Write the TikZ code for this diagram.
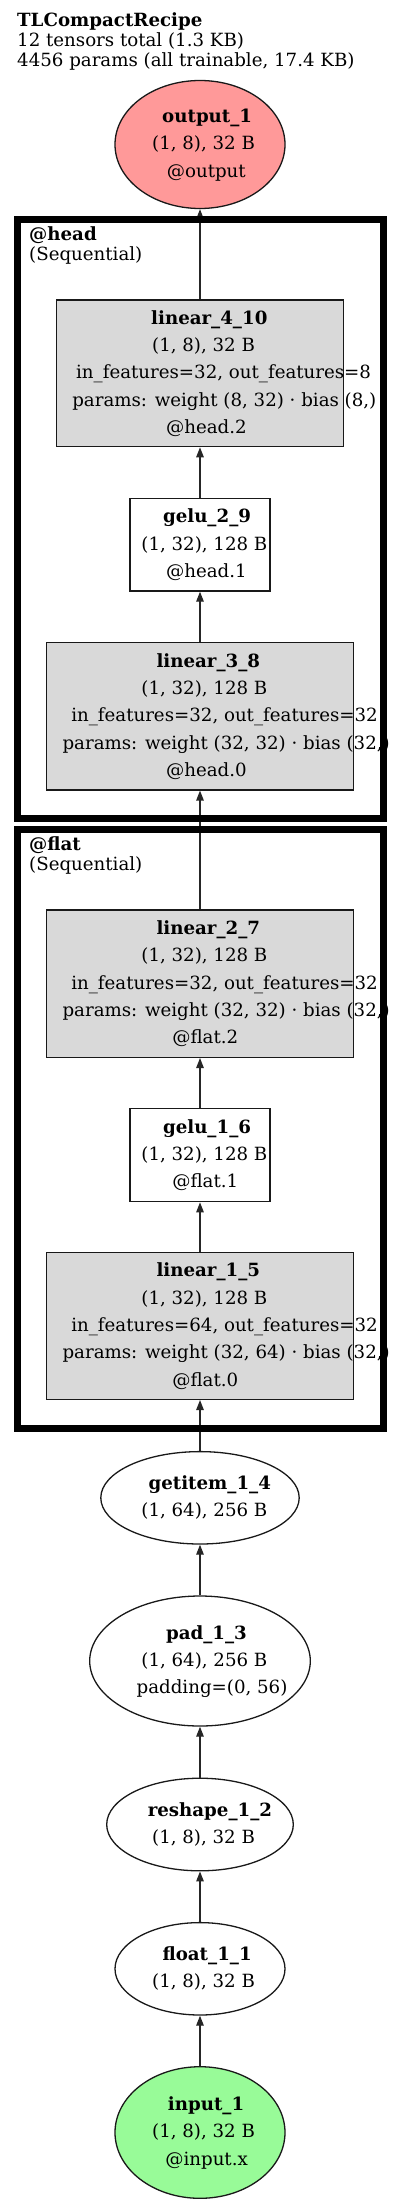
\documentclass[tikz,border=0pt]{standalone}
\usepackage{fontspec}
\setmainfont{DejaVu Serif}
\usepackage{xcolor}
\usepackage{tikz}
\usetikzlibrary{shapes,arrows.meta,positioning}

\definecolor{outred}{HTML}{FF9999}
\definecolor{ingreen}{HTML}{98FB98}
\definecolor{opgray}{HTML}{D9D9D9}

\newcommand{\graphfont}{\fontsize{18.2}{27.3}\selectfont}
\newcommand{\titlefont}{\fontsize{18.2}{20}\selectfont}
% one text line, set a little right of the node centre
\newcommand{\rowtxt}[2]{\setbox0=\hbox{#2}\makebox[0pt]{\strut\hspace*{#1\wd0}\box0}}
\newcommand{\rowname}[1]{\rowtxt{0.16}{\bfseries #1}}
\newcommand{\rowshape}[1]{\rowtxt{0.07}{#1}}
\newcommand{\rowtext}[1]{\rowtxt{0.16}{#1}}

\begin{document}
\begin{tikzpicture}[x=1pt, y=-1pt,
            box/.style={rectangle, draw=black!90, line width=1.3pt, fill=#1, inner sep=0pt, align=center, font=\graphfont},
            box/.default=white,
            oval/.style={ellipse, draw=black!90, line width=1.3pt, fill=#1, inner sep=0pt, align=center, font=\graphfont},
            oval/.default=white,
            flow/.style={line width=1.3pt, draw=black!85, -{Triangle[length=10pt,width=7.5pt]}},
            cluster/.style={rectangle, draw=black, line width=7pt, inner sep=0pt},
            heading/.style={inner sep=0pt, anchor=north west, align=left, font=\titlefont}]

            \useasboundingbox (0,0) rectangle (400,2205);

            % Title
            \node[heading] (title) at (17,12) {\textbf{TLCompactRecipe}\strut\\12 tensors total (1.3 KB)\strut\\4456 params (all trainable, 17.4 KB)\strut};

            % Output
            \node[oval=outred, minimum width=170, minimum height=128] (output_1) at (200,144.5)
                {\rowname{output\_1}\\\rowshape{(1, 8), 32 B}\\\rowtext{@output}};

            % @head layers
            \node[box=opgray, minimum width=287, minimum height=146.7] (linear_4_10) at (200,373.3)
                {\rowname{linear\_4\_10}\\\rowshape{(1, 8), 32 B}\\\rowtext{in\_features=32, out\_features=8}\\\rowtext{params: weight (8, 32) · bias (8,)}\\\rowtext{@head.2}};
            \node[box, minimum width=140, minimum height=92.7] (gelu_2_9) at (200,544.7)
                {\rowname{gelu\_2\_9}\\\rowshape{(1, 32), 128 B}\\\rowtext{@head.1}};
            \node[box=opgray, minimum width=307.3, minimum height=147.3] (linear_3_8) at (200,716.3)
                {\rowname{linear\_3\_8}\\\rowshape{(1, 32), 128 B}\\\rowtext{in\_features=32, out\_features=32}\\\rowtext{params: weight (32, 32) · bias (32,)}\\\rowtext{@head.0}};

            % @flat layers
            \node[box=opgray, minimum width=307.3, minimum height=147.3] (linear_2_7) at (200,983.7)
                {\rowname{linear\_2\_7}\\\rowshape{(1, 32), 128 B}\\\rowtext{in\_features=32, out\_features=32}\\\rowtext{params: weight (32, 32) · bias (32,)}\\\rowtext{@flat.2}};
            \node[box, minimum width=140, minimum height=93.4] (gelu_1_6) at (200,1155)
                {\rowname{gelu\_1\_6}\\\rowshape{(1, 32), 128 B}\\\rowtext{@flat.1}};
            \node[box=opgray, minimum width=307.3, minimum height=146.7] (linear_1_5) at (200,1326)
                {\rowname{linear\_1\_5}\\\rowshape{(1, 32), 128 B}\\\rowtext{in\_features=64, out\_features=32}\\\rowtext{params: weight (32, 64) · bias (32,)}\\\rowtext{@flat.0}};

            % Tensor ops
            \node[oval, minimum width=198.4, minimum height=92.4] (getitem_1_4) at (200,1497.8)
                {\rowname{getitem\_1\_4}\\\rowshape{(1, 64), 256 B}};
            \node[oval, minimum width=220.6, minimum height=130] (pad_1_3) at (200,1661)
                {\rowname{pad\_1\_3}\\\rowshape{(1, 64), 256 B}\\\rowtext{padding=(0, 56)}};
            \node[oval, minimum width=186.6, minimum height=92.6] (reshape_1_2) at (200,1824.5)
                {\rowname{reshape\_1\_2}\\\rowshape{(1, 8), 32 B}};
            \node[oval, minimum width=170, minimum height=92.4] (float_1_1) at (200,1968.8)
                {\rowname{float\_1\_1}\\\rowshape{(1, 8), 32 B}};

            % Input
            \node[oval=ingreen, minimum width=170, minimum height=131.6] (input_1) at (200,2132.5)
                {\rowname{input\_1}\\\rowshape{(1, 8), 32 B}\\\rowtext{@input.x}};

            % Connections
            \draw[flow] (input_1) -- (float_1_1);
            \draw[flow] (float_1_1) -- (reshape_1_2);
            \draw[flow] (reshape_1_2) -- (pad_1_3);
            \draw[flow] (pad_1_3) -- (getitem_1_4);
            \draw[flow] (getitem_1_4) -- (linear_1_5);
            \draw[flow] (linear_1_5) -- (gelu_1_6);
            \draw[flow] (gelu_1_6) -- (linear_2_7);
            \draw[flow] (linear_2_7) -- (linear_3_8);
            \draw[flow] (linear_3_8) -- (gelu_2_9);
            \draw[flow] (gelu_2_9) -- (linear_4_10);
            \draw[flow] (linear_4_10) -- (output_1);

            % Clusters
            \node[cluster, minimum width=366, minimum height=598.3] (head) at (200,518.85) {};
            \node[cluster, minimum width=366, minimum height=598.3] (flat) at (200,1128.85) {};
            \node[heading] (head_label) at (29,226) {\textbf{@head}\strut\\(Sequential)\strut};
            \node[heading] (flat_label) at (29,836) {\textbf{@flat}\strut\\(Sequential)\strut};
        \end{tikzpicture}
\end{document}
